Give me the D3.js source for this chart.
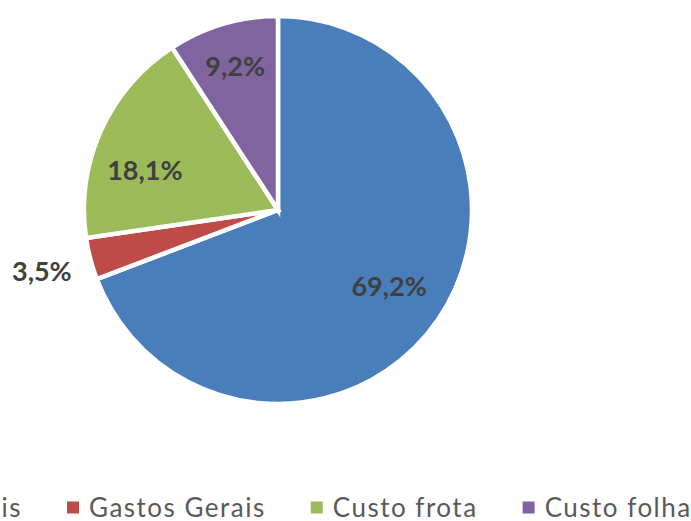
<!DOCTYPE html>
<html>
<head>
<meta charset="utf-8">
<script src="https://cdn.jsdelivr.net/npm/d3@7"></script>
<style>
  html, body { margin: 0; padding: 0; background: #fff; overflow: hidden; }
  svg { display: block; }
</style>
</head>
<body>
<div id="chart"></div>
<script>
// data
const categories = ["Materiais", "Gastos Gerais", "Custo frota", "Custo folha"];
const shares = [69.2, 3.5, 18.1, 9.2];
const labels = ["69,2%", "3,5%", "18,1%", "9,2%"];
const colors = ["#4A7EBB", "#BE4B48", "#9BBB59", "#7F64A0"];

// label placement (radius from centre, small angle nudge in degrees)
const labelRadius = [135, 244, 139, 150];
const labelNudge = [0, 0, -7.6, 0];

const width = 691, height = 521;
const cx = 278, cy = 210, radius = 194;

const svg = d3.select("#chart").append("svg")
  .attr("width", width)
  .attr("height", height);

const pie = d3.pie().sort(null).value(d => d);
const arcs = pie(shares);

const arc = d3.arc().innerRadius(0).outerRadius(radius);

const g = svg.append("g").attr("transform", `translate(${cx},${cy})`);

g.selectAll("path.slice")
  .data(arcs)
  .enter().append("path")
  .attr("class", "slice")
  .attr("d", arc)
  .attr("fill", (d, i) => colors[i])
  .attr("stroke", "#fff")
  .attr("stroke-width", 4.5)
  .attr("stroke-linejoin", "miter");

// percentage labels
g.selectAll("text.pct")
  .data(arcs)
  .enter().append("text")
  .attr("class", "pct")
  .attr("transform", (d, i) => {
    const a = (d.startAngle + d.endAngle) / 2 + labelNudge[i] * Math.PI / 180;
    const r = labelRadius[i];
    return `translate(${Math.sin(a) * r},${-Math.cos(a) * r})`;
  })
  .attr("text-anchor", "middle")
  .attr("dy", "0.36em")
  .style("font-family", "Lato, 'Open Sans', sans-serif")
  .style("font-weight", "bold")
  .style("font-size", "27px")
  .style("fill", "#404040")
  .text((d, i) => labels[i]);

// legend (row at the bottom, left part cropped off as in the reference)
const legend = svg.append("g").attr("class", "legend");
const legendY = 507.5;
const swatch = 12, swatchGap = 10, itemGap = 45;

const items = legend.selectAll("g.item")
  .data(categories)
  .enter().append("g")
  .attr("class", "item");

items.append("rect")
  .attr("width", swatch)
  .attr("height", swatch)
  .attr("y", legendY - swatch / 2)
  .attr("fill", (d, i) => colors[i]);

items.append("text")
  .attr("y", legendY)
  .attr("dy", "0.36em")
  .attr("x", swatch + swatchGap)
  .style("font-family", "Lato, 'Open Sans', sans-serif")
  .style("font-size", "26px")
  .style("letter-spacing", "1.5px")
  .style("fill", "#595959")
  .text(d => d);

// lay items out from their measured widths, starting at the red one
const widths = [];
items.select("text").each(function () { widths.push(this.getComputedTextLength()); });
const starts = [];
starts[1] = 67;
for (let i = 2; i < categories.length; i++) {
  starts[i] = starts[i - 1] + swatch + swatchGap + widths[i - 1] + itemGap;
}
starts[0] = starts[1] - itemGap - widths[0] - swatchGap - swatch;
items.attr("transform", (d, i) => `translate(${starts[i]},0)`);
</script>
</body>
</html>
